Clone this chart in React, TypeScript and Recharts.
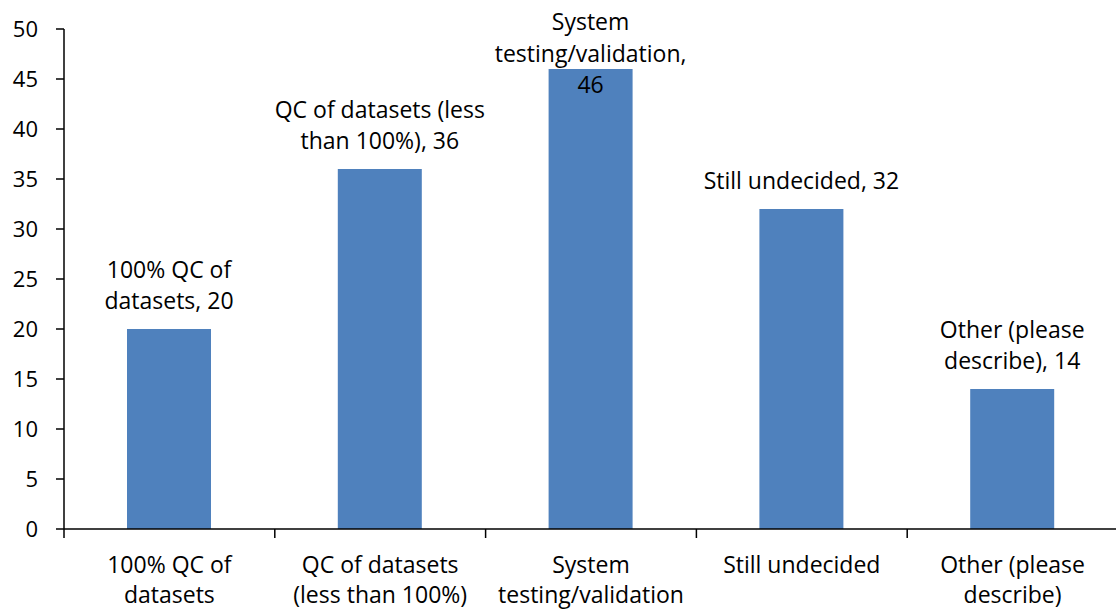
import React from "react";
import { BarChart, Bar, XAxis, YAxis, LabelList } from "recharts";

const categories = [
  "100% QC of datasets",
  "QC of datasets (less than 100%)",
  "System testing/validation",
  "Still undecided",
  "Other (please describe)",
];
const counts = [20, 36, 46, 32, 14];
const yTicks = [0, 5, 10, 15, 20, 25, 30, 35, 40, 45, 50];

// wrapped text as it appears in the picture
const axisLines = [
  ["100% QC of", "datasets"],
  ["QC of datasets", "(less than 100%)"],
  ["System", "testing/validation"],
  ["Still undecided"],
  ["Other (please", "describe)"],
];
const barLabelLines = [
  ["100% QC of", "datasets, 20"],
  ["QC of datasets (less", "than 100%), 36"],
  ["System", "testing/validation,", "46"],
  ["Still undecided, 32"],
  ["Other (please", "describe), 14"],
];

const data = categories.map((name, i) => ({ name, value: counts[i] }));

const FONT = "'Open Sans', Lato, sans-serif";
const FS = 23;
const LINE = 31.5;

const CategoryTick = (props: any) => {
  const { x, y, payload, width, visibleTicksCount, index } = props;
  const catW = width / visibleTicksCount;
  const lines = axisLines[payload.index ?? index] || [payload.value];
  const left = x - catW / 2;
  const right = x + catW / 2;
  return (
    <g>
      <line x1={left} x2={left} y1={y} y2={y + 9} stroke="#000" strokeWidth={1.5} />
      {index === visibleTicksCount - 1 && (
        <line x1={right} x2={right} y1={y} y2={y + 9} stroke="#000" strokeWidth={1.5} />
      )}
      <text textAnchor="middle" fontFamily={FONT} fontSize={FS} fill="#000">
        {lines.map((l: string, i: number) => (
          <tspan key={i} x={x} y={y + 44 + i * 30}>
            {l}
          </tspan>
        ))}
      </text>
    </g>
  );
};

const BarLabel = (props: any) => {
  const { x, y, width, index } = props;
  const lines = barLabelLines[index];
  const cx = x + width / 2;
  let last = y - 20;
  let first = last - (lines.length - 1) * LINE;
  if (first < 30) {
    first = 30;
  }
  return (
    <text textAnchor="middle" fontFamily={FONT} fontSize={FS} fill="#000">
      {lines.map((l, i) => (
        <tspan key={i} x={cx} y={first + i * LINE}>
          {l}
        </tspan>
      ))}
    </text>
  );
};

export default function App() {
  return (
    <div
      style={{
        position: "absolute",
        left: 0,
        top: 0,
        width: 1116,
        height: 610,
        overflow: "hidden",
        background: "#fff",
      }}
    >
      <BarChart
        width={1118}
        height={610}
        data={data}
        margin={{ top: 29, right: 0, left: 0, bottom: 0 }}
      >
        <XAxis
          dataKey="name"
          height={81}
          tickLine={false}
          tickSize={0}
          tickMargin={0}
          interval={0}
          axisLine={{ stroke: "#000", strokeWidth: 1.5 }}
          tick={<CategoryTick />}
        />
        <YAxis
          width={64}
          domain={[0, 50]}
          ticks={yTicks}
          interval={0}
          tickSize={8}
          tickMargin={18}
          axisLine={{ stroke: "#000", strokeWidth: 1.5 }}
          tickLine={{ stroke: "#000", strokeWidth: 1.5 }}
          tick={{ fill: "#000", fontFamily: FONT, fontSize: 22 }}
        />
        <Bar dataKey="value" fill="#4F81BD" barSize={84} isAnimationActive={false}>
          <LabelList dataKey="value" content={<BarLabel />} />
        </Bar>
      </BarChart>
    </div>
  );
}
